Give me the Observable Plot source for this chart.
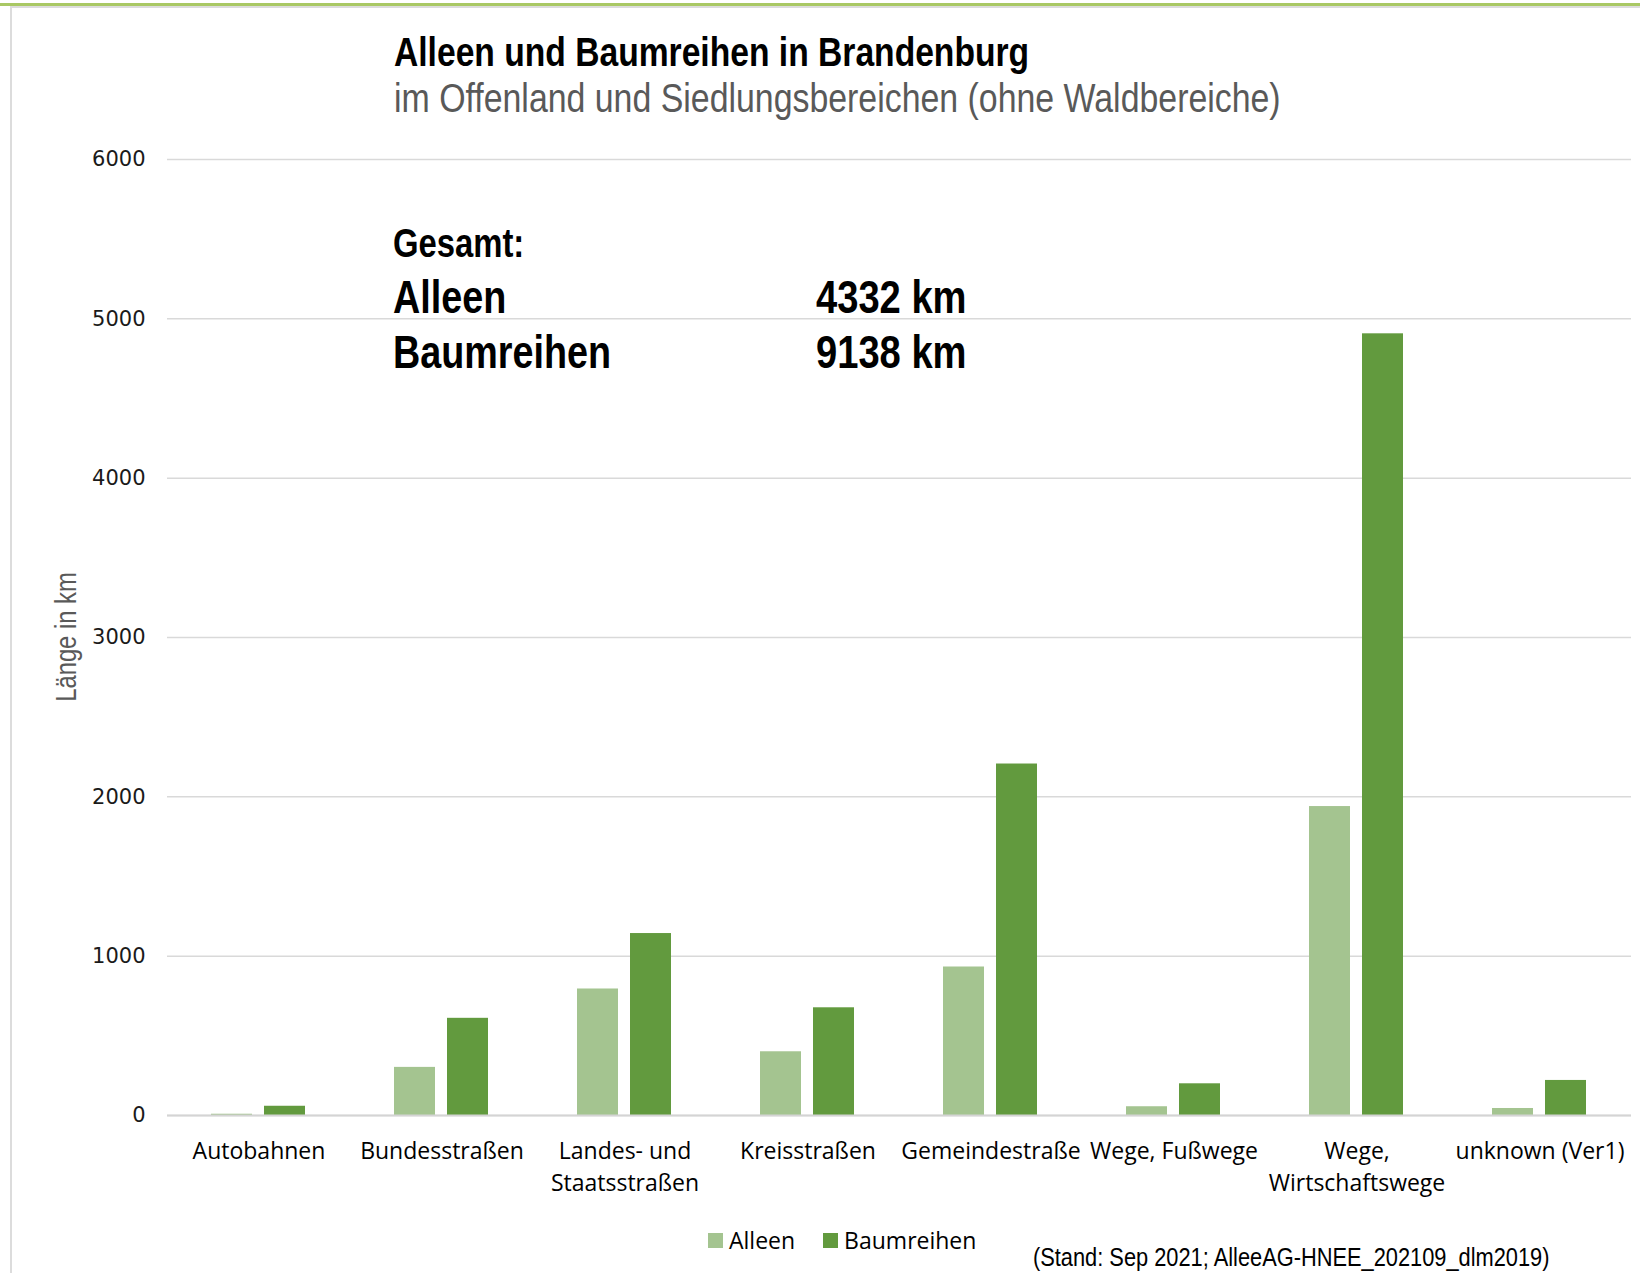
<!DOCTYPE html>
<html>
<head>
<meta charset="utf-8">
<script src="https://cdn.jsdelivr.net/npm/d3@7"></script>
<script src="https://cdn.jsdelivr.net/npm/@observablehq/plot@0.6"></script>
<style>
  html, body { margin: 0; padding: 0; background: #fff; }
  #page { position: relative; width: 1640px; height: 1273px; overflow: hidden; background: #fff; }
  .narrow { font-family: "Liberation Sans", Arial, sans-serif; transform: scaleX(0.82); transform-origin: 0 0; }
  .abs { position: absolute; white-space: nowrap; line-height: 1; }
  #topgreen { position: absolute; left: 0; top: 3px; width: 1640px; height: 3px; background: #a9c864; }
  #topgray { position: absolute; left: 10px; top: 6px; width: 1630px; height: 2px; background: #dcdcdc; }
  #leftgray { position: absolute; left: 10px; top: 6px; width: 2px; height: 1267px; background: #dcdcdc; }
  #chart { position: absolute; left: 0; top: 0; }
  #legend { position: absolute; left: 708px; top: 1224px; font-family: "Open Sans", sans-serif; font-size: 23px; color: #000; display: flex; align-items: center; }
  #legend .sw { display: inline-flex; align-items: center; margin-right: 28px; }
  #legend .sq { width: 15px; height: 15px; margin-right: 6px; display: inline-block; }
</style>
</head>
<body>
<div id="page">
  <div id="topgreen"></div>
  <div id="topgray"></div>
  <div id="leftgray"></div>
  <div id="chart"></div>
  <div id="title" class="abs narrow" style="left:394px; top:32px; font-size:41px; font-weight:bold; color:#000;"></div>
  <div id="subtitle" class="abs narrow" style="left:394px; top:78px; font-size:41.3px; color:#595959;"></div>
  <div id="gesamt" class="abs narrow" style="left:393px; top:223px; font-size:40px; font-weight:bold; color:#000;"></div>
  <div id="tot1name" class="abs narrow" style="left:393px; top:274px; font-size:46px; font-weight:bold; color:#000;"></div>
  <div id="tot1val" class="abs narrow" style="left:816px; top:274px; font-size:46.5px; font-weight:bold; color:#000;"></div>
  <div id="tot2name" class="abs narrow" style="left:393px; top:329px; font-size:46px; font-weight:bold; color:#000;"></div>
  <div id="tot2val" class="abs narrow" style="left:816px; top:329px; font-size:46.5px; font-weight:bold; color:#000;"></div>
  <div id="ylabel" class="abs" style="left:66px; top:637px; font-family:'Liberation Sans', Arial, sans-serif; font-size:29px; color:#595959; transform-origin: 50% 50%; transform: translate(-50%, -50%) rotate(-90deg) scaleX(0.82);"></div>
  <div id="legend"></div>
  <div id="caption" class="abs narrow" style="left:1033px; top:1244px; font-size:26.6px; color:#000;"></div>
</div>
<script>
// ---- data ----
const categories = [
  "Autobahnen",
  "Bundesstraßen",
  "Landes- und\nStaatsstraßen",
  "Kreisstraßen",
  "Gemeindestraße",
  "Wege, Fußwege",
  "Wege,\nWirtschaftswege",
  "unknown (Ver1)"
];
const series = ["Alleen", "Baumreihen"];
const alleen     = [8, 302, 794, 400, 932, 55, 1939, 44];
const baumreihen = [58, 610, 1142, 676, 2206, 199, 4906, 220];
const yTicks = [0, 1000, 2000, 3000, 4000, 5000, 6000];
const colors = ["#a4c490", "#629a3e"];

const titleText = "Alleen und Baumreihen in Brandenburg";
const subtitleText = "im Offenland und Siedlungsbereichen (ohne Waldbereiche)";
const gesamtText = "Gesamt:";
const totals = [["Alleen", "4332 km"], ["Baumreihen", "9138 km"]];
const yLabelText = "Länge in km";
const captionText = "(Stand: Sep 2021; AlleeAG-HNEE_202109_dlm2019)";

// ---- table ----
const data = categories.flatMap((c, i) => [
  {cat: c, series: series[0], value: alleen[i]},
  {cat: c, series: series[1], value: baumreihen[i]}
]);

const chart = Plot.plot({
  width: 1640,
  height: 1273,
  marginLeft: 167,
  marginRight: 9,
  marginTop: 159,
  marginBottom: 158,
  style: {background: "transparent", color: "#000"},
  fx: {domain: categories, paddingInner: 0, paddingOuter: 0, label: null},
  x: {domain: series, paddingInner: 0.226, paddingOuter: 0.836, axis: null},
  y: {domain: [0, 6000], label: null},
  color: {domain: series, range: colors},
  marks: [
    Plot.gridY(yTicks, {stroke: "#d9d9d9", strokeOpacity: 1, strokeWidth: 1.5}),
    Plot.axisY(yTicks, {
      tickSize: 0, tickPadding: 22, label: null,
      fontSize: 21, fontFamily: "DejaVu Sans, sans-serif", fill: "#1a1a1a",
      tickFormat: d => String(d)
    }),
    Plot.axisFx({
      anchor: "bottom",
      tickSize: 0, tickPadding: 20, label: null,
      fontSize: 23, fontFamily: "Open Sans, sans-serif", fill: "#000",
      lineHeight: 1.42
    }),
    Plot.barY(data, {fx: "cat", x: "series", y: "value", fill: "series"}),
    Plot.ruleY([0], {stroke: "#d4d4d4", strokeWidth: 2})
  ]
});
document.getElementById("chart").appendChild(chart);

// ---- texts ----
document.getElementById("title").textContent = titleText;
document.getElementById("subtitle").textContent = subtitleText;
document.getElementById("gesamt").textContent = gesamtText;
document.getElementById("tot1name").textContent = totals[0][0];
document.getElementById("tot1val").textContent = totals[0][1];
document.getElementById("tot2name").textContent = totals[1][0];
document.getElementById("tot2val").textContent = totals[1][1];
document.getElementById("ylabel").textContent = yLabelText;
document.getElementById("caption").textContent = captionText;

// ---- legend ----
const legend = document.getElementById("legend");
series.forEach((s, i) => {
  const sw = document.createElement("span");
  sw.className = "sw";
  const sq = document.createElement("span");
  sq.className = "sq";
  sq.style.background = colors[i];
  sw.appendChild(sq);
  sw.appendChild(document.createTextNode(s));
  legend.appendChild(sw);
});
</script>
</body>
</html>
